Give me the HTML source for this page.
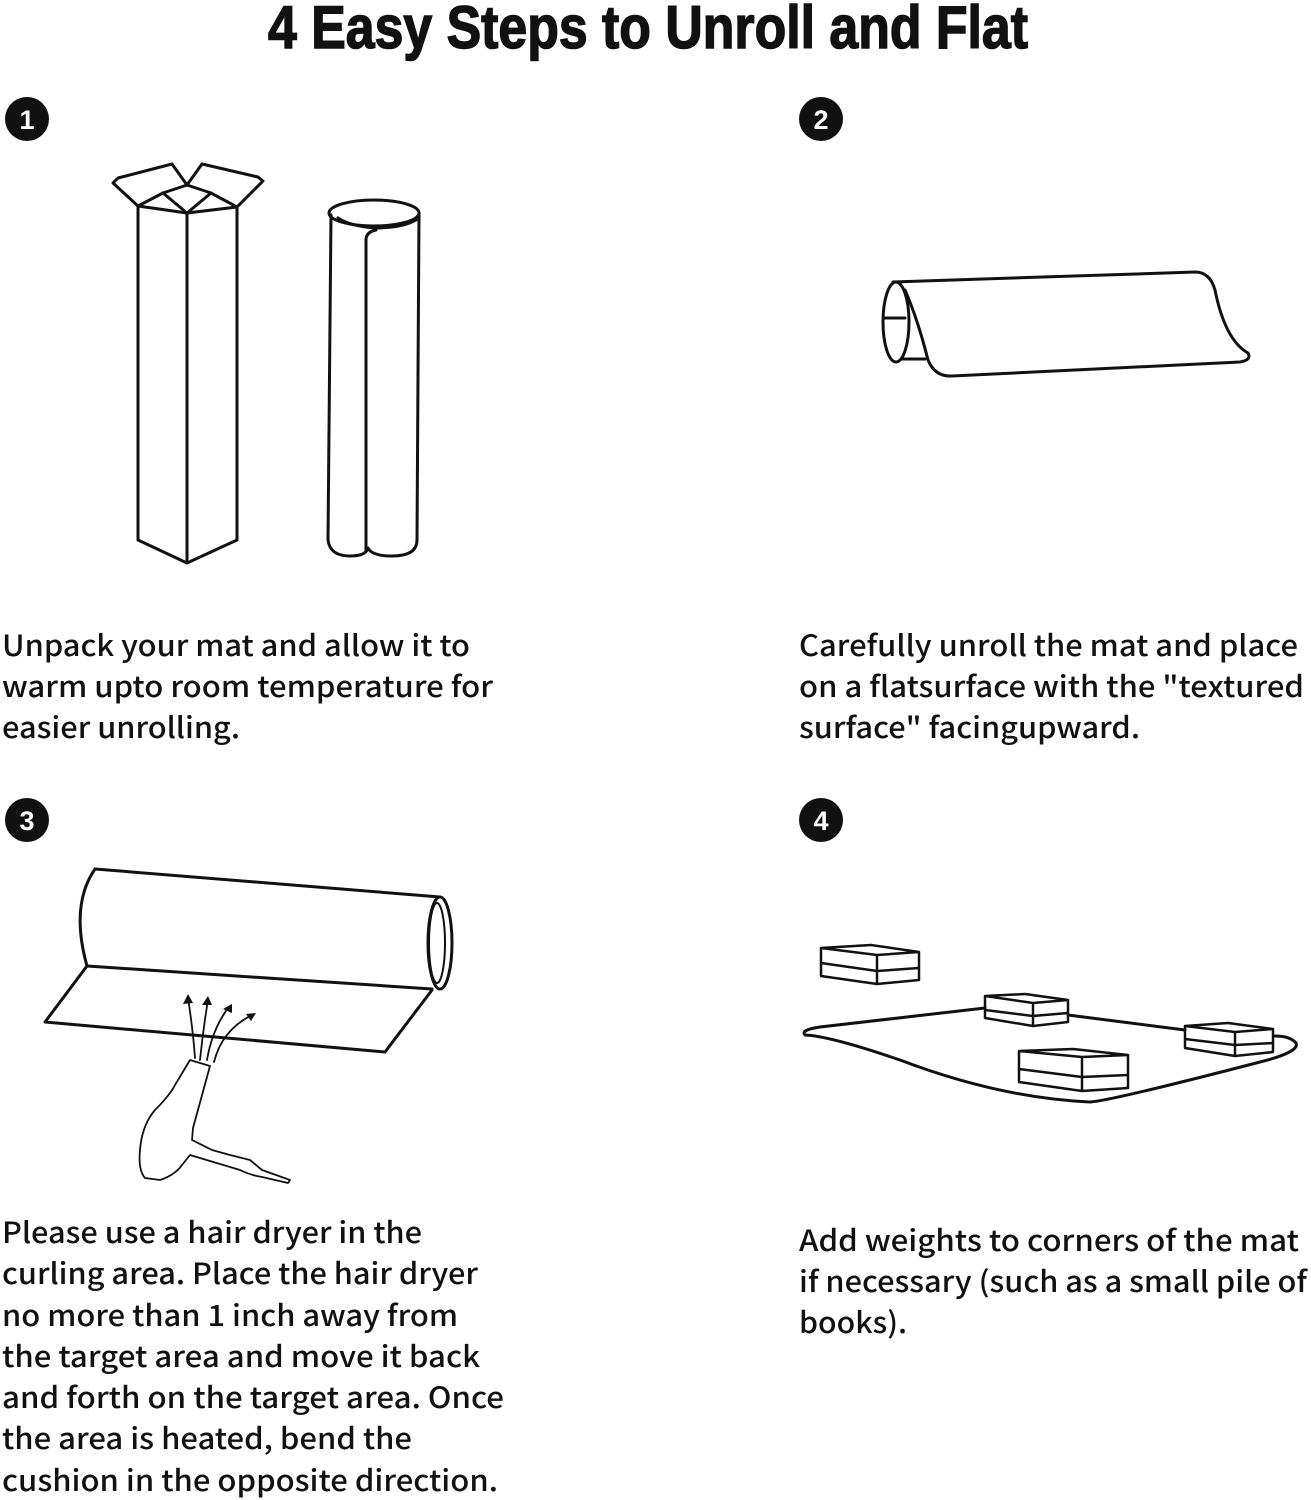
<!DOCTYPE html>
<html><head><meta charset="utf-8"><style>
html,body{margin:0;padding:0;background:#fff;}
svg{display:block;}
.t{font-family:"Noto Sans CJK SC","Liberation Sans",sans-serif;font-weight:500;font-size:29px;fill:#111;}
.n{font-family:"Liberation Sans",sans-serif;font-weight:bold;font-size:27px;fill:#fff;}
</style></head><body>
<svg width="1311" height="1500" viewBox="0 0 1311 1500" xmlns="http://www.w3.org/2000/svg">
<text x="268" y="48" textLength="760" lengthAdjust="spacingAndGlyphs" style="font-family:'Liberation Sans Narrow','Liberation Sans',sans-serif;font-weight:bold;font-size:60px;fill:#111;stroke:#111;stroke-width:1.5">4 Easy Steps to Unroll and Flat</text>

<g>
<circle cx="27" cy="119" r="22" fill="#111"/><text class="n" x="27" y="129" text-anchor="middle">1</text>
<circle cx="821" cy="119" r="22" fill="#111"/><text class="n" x="821" y="129" text-anchor="middle">2</text>
<circle cx="27" cy="820" r="22" fill="#111"/><text class="n" x="27" y="830" text-anchor="middle">3</text>
<circle cx="821" cy="820" r="22" fill="#111"/><text class="n" x="821" y="830" text-anchor="middle">4</text>
</g>

<g class="t">
<text x="2" y="656" textLength="468" lengthAdjust="spacingAndGlyphs">Unpack your mat and allow it to</text>
<text x="2" y="697" textLength="491" lengthAdjust="spacingAndGlyphs">warm upto room temperature for</text>
<text x="2" y="738" textLength="238" lengthAdjust="spacingAndGlyphs">easier unrolling.</text>
<text x="799" y="656" textLength="499" lengthAdjust="spacingAndGlyphs">Carefully unroll the mat and place</text>
<text x="799" y="697" textLength="505" lengthAdjust="spacingAndGlyphs">on a flatsurface with the "textured</text>
<text x="799" y="738" textLength="341" lengthAdjust="spacingAndGlyphs">surface" facingupward.</text>
<text x="2" y="1243" textLength="420" lengthAdjust="spacingAndGlyphs">Please use a hair dryer in the</text>
<text x="2" y="1284" textLength="476" lengthAdjust="spacingAndGlyphs">curling area. Place the hair dryer</text>
<text x="2" y="1326" textLength="456" lengthAdjust="spacingAndGlyphs">no more than 1 inch away from</text>
<text x="2" y="1367" textLength="478" lengthAdjust="spacingAndGlyphs">the target area and move it back</text>
<text x="2" y="1408" textLength="502" lengthAdjust="spacingAndGlyphs">and forth on the target area. Once</text>
<text x="2" y="1449" textLength="410" lengthAdjust="spacingAndGlyphs">the area is heated, bend the</text>
<text x="2" y="1491" textLength="496" lengthAdjust="spacingAndGlyphs">cushion in the opposite direction.</text>
<text x="799" y="1251" textLength="500" lengthAdjust="spacingAndGlyphs">Add weights to corners of the mat</text>
<text x="799" y="1292" textLength="508" lengthAdjust="spacingAndGlyphs">if necessary (such as a small pile of</text>
<text x="799" y="1333" textLength="108" lengthAdjust="spacingAndGlyphs">books).</text>
</g>

<g fill="none" stroke="#111" stroke-width="3" stroke-linejoin="round" stroke-linecap="round">
<!-- step 1 box -->
<path d="M138 206 L138 540 L187 563 L237 540 L237 207"/>
<path d="M187 213 L187 563"/>
<path d="M138 206 L187 213 L237 207"/>
<path d="M138 206 L113 183 L118 178 L172 164 L187 185"/>
<path d="M237 207 L263 181 L258 177 L202 164 L187 185"/>
<path d="M138 206 L163 193 L187 185 L211 193 L237 207"/>
<path d="M163 193 L187 213 L211 193"/>
<!-- roll -->
<path d="M331 215 L328 540 Q330 556 350 556 Q366 556 368 548 Q372 556 392 556 Q417 556 417 540 L419 213"/>
<ellipse cx="374" cy="213" rx="45" ry="13"/>
<path d="M338 218 Q350 226 375 228 Q402 228 416 220"/>
<path d="M366 550 L366 240 Q366 232 376 230"/>
<!-- step 2 -->
<path d="M893 282 L1195 272 Q1210 272 1215 290 Q1225 340 1248 353 Q1252 360 1240 362 L952 376 Q935 377 928 360 Q918 320 905 290"/>
<ellipse cx="896" cy="322" rx="13" ry="40"/>
<path d="M884 318 L905 318"/>
<path d="M903 359 L925 359"/>
<!-- step 3 -->
<path d="M95 869 L440 897"/>
<path d="M95 869 Q70 905 87 966"/>
<path d="M87 966 L432 989"/>
<ellipse cx="440" cy="943" rx="12" ry="46"/>
<ellipse cx="437" cy="943" rx="8" ry="40" stroke-width="2"/>
<path d="M87 966 L45 1022 L385 1052 L432 990"/>
<g stroke-width="1.8">
<path d="M195 1058 Q193 1030 188 998"/><path d="M200 1060 Q203 1030 208 1000"/>
<path d="M207 1060 Q212 1030 228 1008"/><path d="M214 1062 Q222 1030 252 1015"/>
<path d="M190 1060 L210 1066 L193 1128 L192 1140 L212 1150 L230 1155 L250 1160 L262 1170 L290 1180 L288 1183 L262 1177 Q250 1175 240 1170 L190 1155 L182 1165 Q175 1175 160 1180 L145 1178 Q138 1170 140 1150 Q142 1125 155 1110 Q170 1095 175 1085 Z"/>
</g>
<g fill="#111" stroke="none">
<path d="M188 994 L183 1004 L193 1003Z"/><path d="M208 996 L202 1005 L212 1005Z"/>
<path d="M232 1004 L223 1009 L232 1013Z"/><path d="M256 1013 L246 1014 L251 1021Z"/>
</g>
<!-- step 4 -->
<path d="M985 1008 L820 1027 Q800 1030 805 1035 Q830 1036 900 1060 Q1000 1098 1090 1102 Q1110 1101 1260 1062 Q1300 1052 1296 1043 Q1290 1036 1275 1036"/>
<path d="M1068 1015 L1185 1030"/>
<g stroke-width="2.5">
<path d="M821 948 L877 955 L919 952 L871 945 Z M821 948 L821 976 L877 984 L919 980 L919 952 M877 955 L877 984 M821 963 L877 971 L919 968"/>
<path d="M985 996 L1033 1003 L1068 1000 L1025 994 Z M985 996 L985 1018 L1033 1026 L1068 1022 L1068 1000 M1033 1003 L1033 1026 M985 1010 L1033 1016 L1068 1013"/>
<path d="M1185 1026 L1235 1032 L1273 1029 L1228 1023 Z M1185 1026 L1185 1048 L1235 1056 L1273 1052 L1273 1029 M1235 1032 L1235 1056 M1185 1039 L1235 1045 L1273 1043"/>
<path d="M1019 1051 L1082 1057 L1128 1055 L1073 1049 Z M1019 1051 L1019 1082 L1082 1091 L1128 1088 L1128 1055 M1082 1057 L1082 1091 M1019 1069 L1082 1077 L1128 1075"/>
</g>
</g>
</svg>
</body></html>
